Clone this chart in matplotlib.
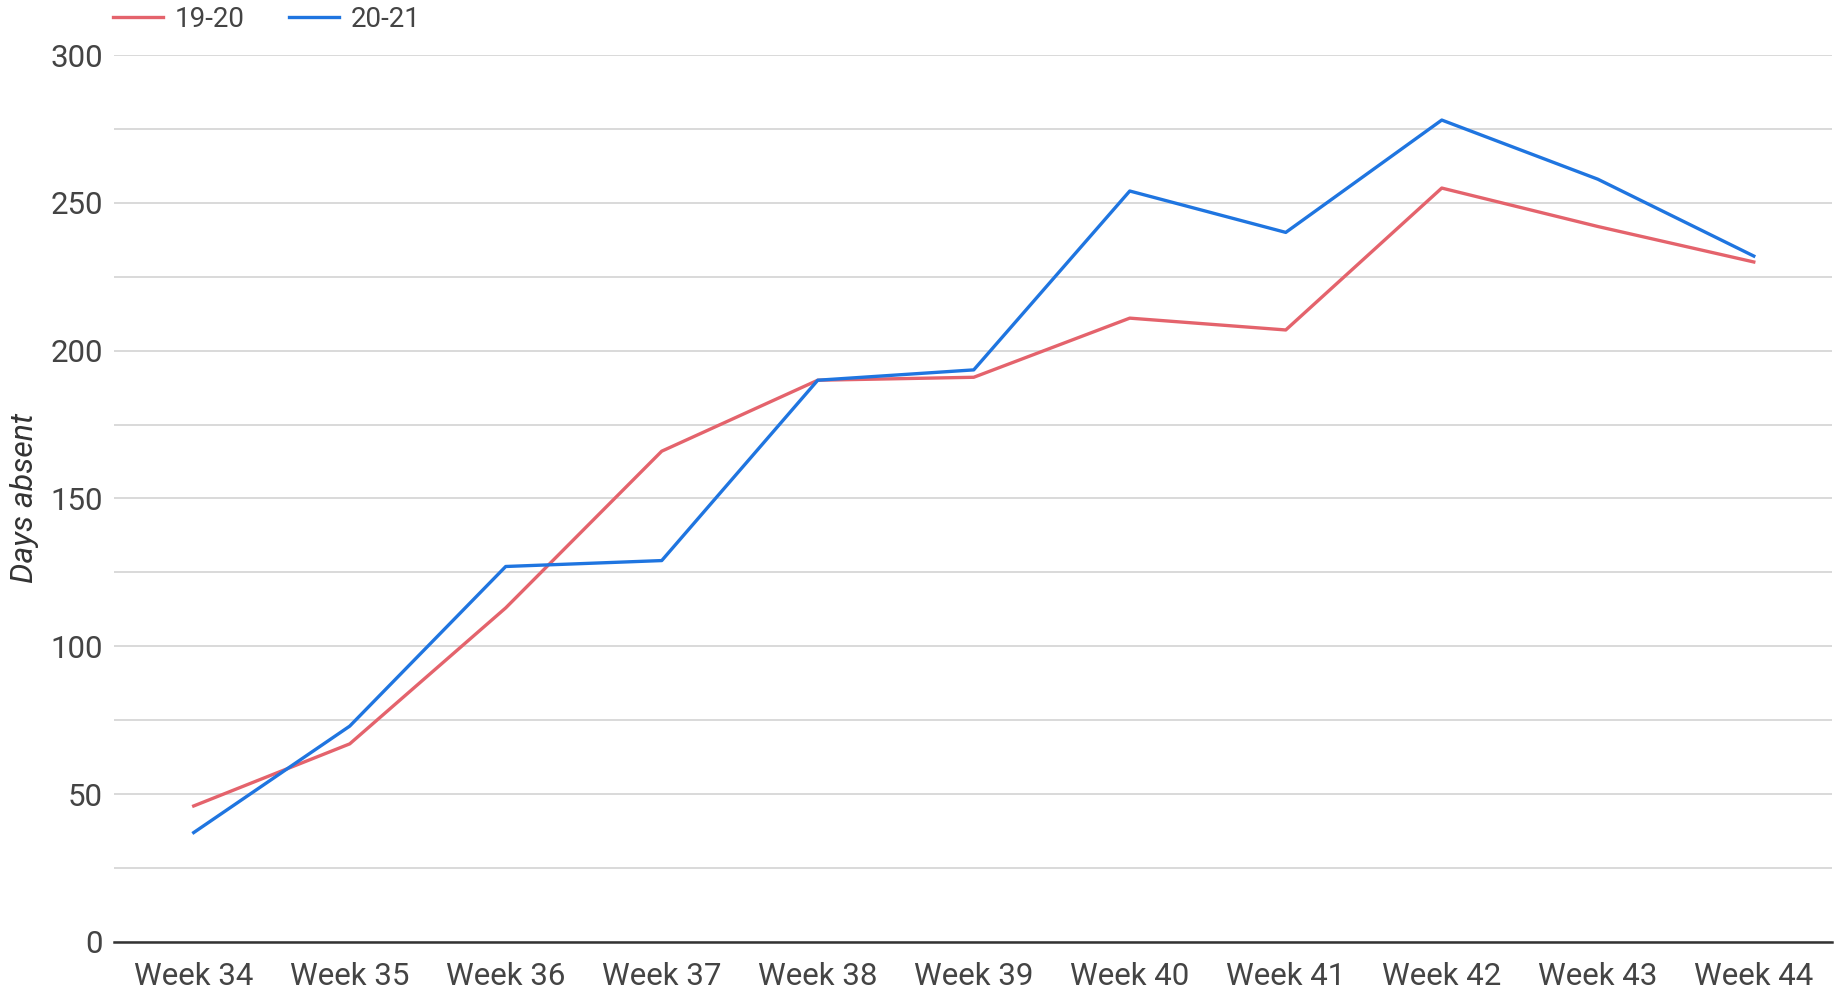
import numpy as np
import matplotlib.pyplot as plt
from matplotlib.ticker import MultipleLocator

# weekly totals
weeks = ["Week 34", "Week 35", "Week 36", "Week 37", "Week 38", "Week 39",
         "Week 40", "Week 41", "Week 42", "Week 43", "Week 44"]
days_1920 = [46, 67, 113, 166, 190, 191, 211, 207, 255, 242, 230]
days_2021 = [37, 73, 127, 129, 190, 193.5, 254, 240, 278, 258, 232]

plt.rcParams['font.family'] = ['Roboto', 'DejaVu Sans']

fig = plt.figure(figsize=(18.41, 9.93), dpi=100)
ax = fig.add_axes([0.062, 0.0514, 0.933, 0.8932])

x = np.arange(len(weeks))
ax.plot(x, days_1920, color="#e4636c", lw=2.4, label="19-20")
ax.plot(x, days_2021, color="#1f75e0", lw=2.4, label="20-21")

ax.set_xlim(-0.51, 10.5)
ax.set_ylim(0, 300)
ax.set_xticks(x)
ax.set_xticklabels(weeks)
ax.yaxis.set_major_locator(MultipleLocator(50))
ax.yaxis.set_minor_locator(MultipleLocator(25))
ax.grid(axis="y", which="both", color="#d0d0d0", lw=1.1)
ax.set_axisbelow(True)

for s in ["top", "right", "left"]:
    ax.spines[s].set_visible(False)
ax.spines["bottom"].set_color("#333333")
ax.spines["bottom"].set_linewidth(1.8)
ax.spines["bottom"].set_zorder(3)

ax.tick_params(axis="both", which="both", length=0, labelsize=22.5, colors="#444444")
ax.tick_params(axis="x", pad=14.5)
ax.tick_params(axis="y", pad=8)

ax.set_ylabel("Days absent", fontsize=23, style="italic", color="#333333")
ax.yaxis.set_label_coords(-0.044, 0.5)

ax.legend(loc="center left", bbox_to_anchor=(-0.0072, 1.040), ncol=2, frameon=False,
          fontsize=20, handlelength=1.8, columnspacing=1.6, handletextpad=0.43,
          labelcolor="#444444", borderaxespad=0.0)

fig.savefig("out.png", dpi=100, facecolor="white")
